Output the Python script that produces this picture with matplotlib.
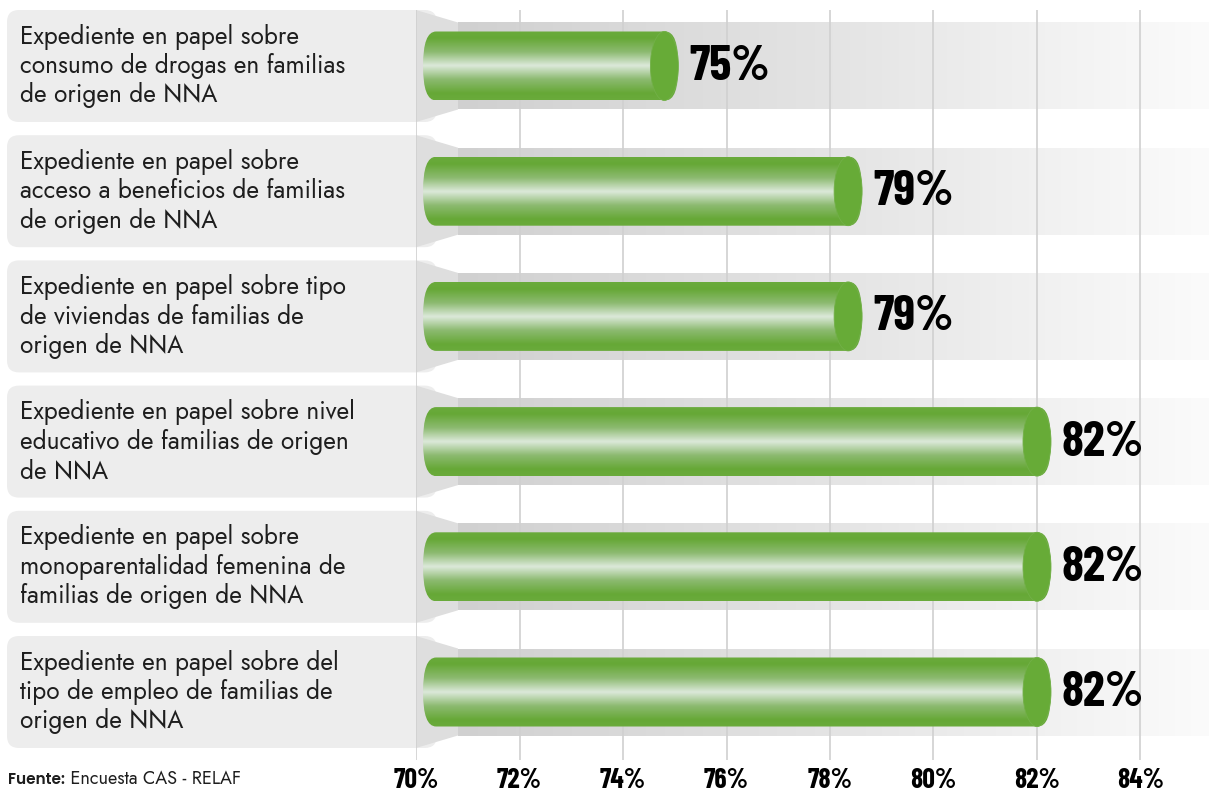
import numpy as np
import matplotlib
matplotlib.use("Agg")
import matplotlib.pyplot as plt
from matplotlib.colors import LinearSegmentedColormap
from matplotlib.patches import FancyBboxPatch, Ellipse, Polygon

# data
categories = [
    "Expediente en papel sobre\nconsumo de drogas en familias\nde origen de NNA",
    "Expediente en papel sobre\nacceso a beneficios de familias\nde origen de NNA",
    "Expediente en papel sobre tipo\nde viviendas de familias de\norigen de NNA",
    "Expediente en papel sobre nivel\neducativo de familias de origen\nde NNA",
    "Expediente en papel sobre\nmonoparentalidad femenina de\nfamilias de origen de NNA",
    "Expediente en papel sobre del\ntipo de empleo de familias de\norigen de NNA",
]
bar_values = [74.8, 78.35, 78.35, 82.0, 82.0, 82.0]
value_labels = ["75%", "79%", "79%", "82%", "82%", "82%"]
tick_values = [70, 72, 74, 76, 78, 80, 82, 84]
tick_labels = ["70%", "72%", "74%", "76%", "78%", "80%", "82%", "84%"]
source_bold = "Fuente:"
source_text = " Encuesta CAS - RELAF"

W, H = 1209, 791
px_per_pct = 51.75      # horizontal scale of the reference
x0_px = 416             # pixel position of 70%
pitch = 125.2           # pixels per row
first_c = 66            # centre of first row, px from top

label_font = ["Jost", "Lato", "DejaVu Sans"]
bold_font = ["Poppins", "Lato", "DejaVu Sans"]
num_font = ["Barlow Condensed", "Roboto Condensed", "DejaVu Sans"]

fig = plt.figure(figsize=(W / 100, H / 100), dpi=100)
fig.patch.set_facecolor("white")
ax = fig.add_axes([x0_px / W, (H - 760) / H, 1 - x0_px / W, (760 - 10) / H])
xmax = 70 + (W - x0_px) / px_per_pct
ylim = ((760 - first_c) / pitch, -(first_c - 10) / pitch)

ux = 1 / px_per_pct     # one pixel in x data units
uy = 1 / pitch          # one pixel in y data units

box_left = 70 - (x0_px - 7) * ux
box_h = 112 * uy
band_x = 70 + 42 * ux
band_h = 87 * uy
bar_h = 69 * uy
bar_left = 70 + 7 * ux
end_rx = 13 * ux
cap_rx = 14 * ux

band_cmap = LinearSegmentedColormap.from_list("band", ["#d0d0d0", "#e4e4e4", "#fbfbfb"])
cyl_cmap = LinearSegmentedColormap.from_list(
    "cyl",
    [(0.0, "#6aab3c"), (0.1, "#66a836"), (0.3, "#8cba70"), (0.5, "#dce9da"),
     (0.7, "#8cba70"), (0.9, "#66a836"), (1.0, "#6aab3c")])
h_grad = np.linspace(0, 1, 256).reshape(1, -1)
v_grad = np.linspace(0, 1, 256).reshape(-1, 1)

for i, (cat, v, lab) in enumerate(zip(categories, bar_values, value_labels)):
    # label box on the left
    box = FancyBboxPatch((box_left, i - box_h / 2), 70.4 - box_left, box_h,
                         boxstyle=f"round,pad=0,rounding_size={12 * ux}",
                         mutation_aspect=(12 * uy) / (12 * ux),
                         fc="#ededed", ec="none", clip_on=False, zorder=1)
    ax.add_patch(box)
    conn = Polygon([(70, i - box_h / 2), (band_x, i - band_h / 2),
                    (band_x, i + band_h / 2), (70, i + box_h / 2)],
                   closed=True, fc="#dedede", ec="none", zorder=2)
    ax.add_patch(conn)
    ax.text(70 - (x0_px - 20) * ux, i, cat, ha="left", va="center",
            fontsize=17.6, family=label_font, color="#1e1e1e",
            linespacing=1.17, zorder=5)

    # grey band behind the bar
    ax.imshow(h_grad, cmap=band_cmap, aspect="auto", interpolation="bicubic",
              extent=(band_x, xmax, i + band_h / 2, i - band_h / 2), zorder=1)

    # cylinder body
    body = FancyBboxPatch((bar_left, i - bar_h / 2), v + cap_rx - bar_left, bar_h,
                          boxstyle=f"round,pad=0,rounding_size={end_rx}",
                          mutation_aspect=(bar_h / 2) / end_rx,
                          fc="none", ec="none", zorder=3)
    ax.add_patch(body)
    img = ax.imshow(v_grad, cmap=cyl_cmap, aspect="auto", interpolation="bicubic",
                    extent=(bar_left, v + cap_rx, i + bar_h / 2, i - bar_h / 2),
                    zorder=3)
    img.set_clip_path(body)
    cap = Ellipse((v, i), 2 * cap_rx, bar_h, fc="#67ab37", ec="#72b048",
                  lw=0.6, zorder=4)
    ax.add_patch(cap)
    ax.text(v + cap_rx + 11 * ux, i + 1 * uy, lab, ha="left", va="center",
            fontsize=36, family=num_font, fontweight="bold", color="black",
            zorder=5)

for t in tick_values:
    ax.axvline(t, color="#d0d0d0", lw=1.2, zorder=2.5)

ax.set_xlim(70, xmax)
ax.set_ylim(*ylim)
ax.set_xticks(tick_values)
ax.set_xticklabels(tick_labels, family=num_font, fontweight="bold", fontsize=20)
ax.set_yticks([])
ax.tick_params(axis="x", length=0, pad=6)
for s in ax.spines.values():
    s.set_visible(False)
ax.set_facecolor("none")

# source line
t1 = fig.text(8 / W, 1 - 780 / H, source_bold, ha="left", va="center",
              fontsize=11, family=bold_font, fontweight="semibold", color="#1e1e1e")
fig.canvas.draw()
bb = t1.get_window_extent()
fig.text(bb.x1 / W, 1 - 779 / H, source_text, ha="left", va="center",
         fontsize=13, family=label_font, color="#1e1e1e")

fig.savefig("out.png", dpi=100, facecolor="white")
